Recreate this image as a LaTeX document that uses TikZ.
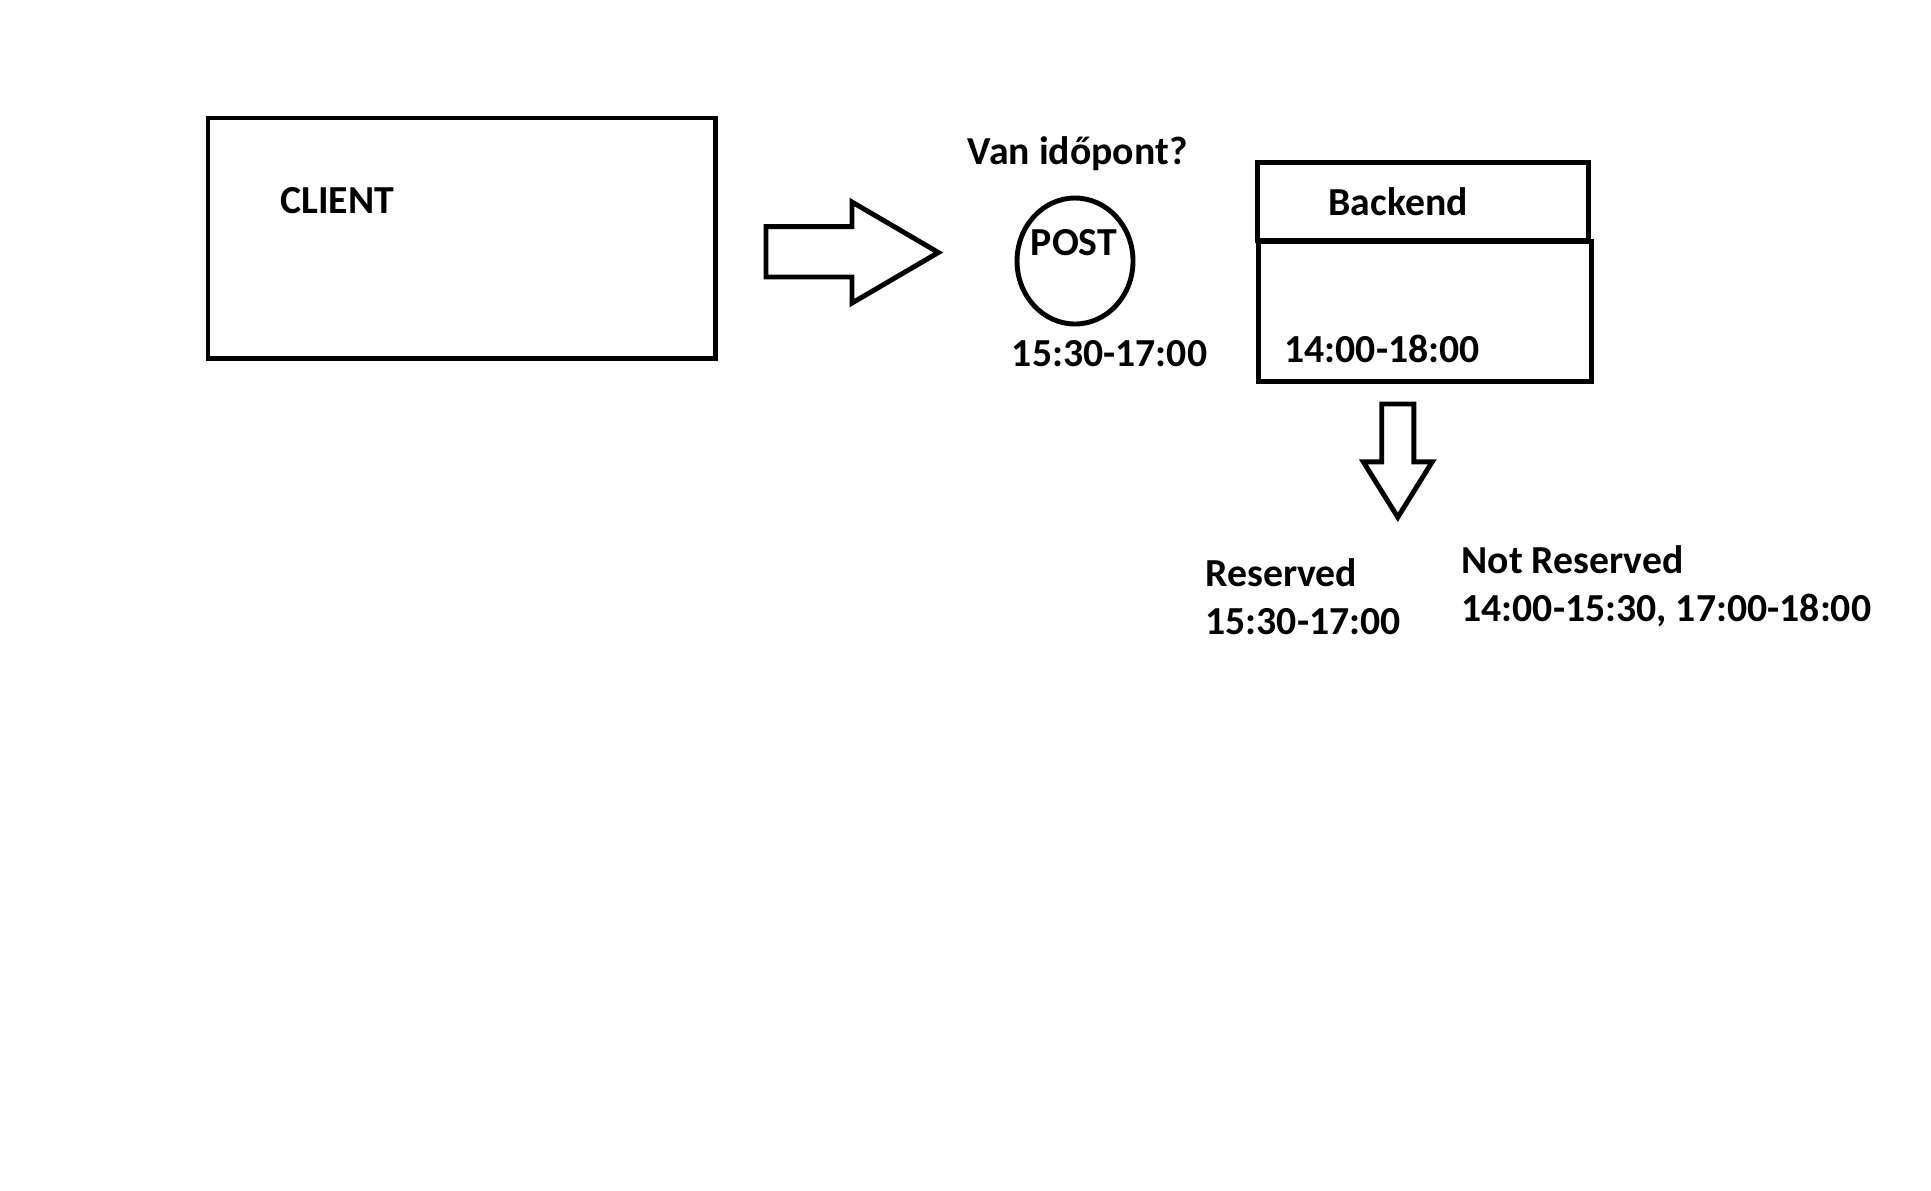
\documentclass[tikz,border=0pt]{standalone}
\usepackage{fontspec}
\setmainfont{Carlito}
\usetikzlibrary{positioning}

\begin{document}
\begin{tikzpicture}[x=0.01cm,y=-0.01cm,line width=1.4pt,
	lbl/.style={inner sep=0pt,font=\fontsize{11.3}{13}\selectfont\bfseries}]
	\useasboundingbox (0,0) rectangle (1931,1190);
	\draw (208,118) rectangle (715.5,358.4);
	\node[lbl,anchor=base west] (client) at (278,213) {CLIENT};
	\draw (766,226.6) -- (852,226.6) -- (852,202) -- (938.4,252.5) -- (852,303) -- (852,277) -- (766,277) -- cycle;
	\node[lbl,anchor=base] (question) at (1077.6,164) {Van időpont?};
	\draw (1075,261) ellipse [x radius=58, y radius=63];
	\node[lbl,anchor=base] (post) at (1074,255) {POST};
	\node[lbl,anchor=base west] (request) at (1009.5,366) {15:30-17:00};
	\draw (1257.4,162.6) rectangle (1588.6,240.1);
	\draw (1258.6,241.4) rectangle (1591.1,381.8);
	\node[lbl,anchor=base west] (backend) at (1326,215.5) {Backend};
	\node[lbl,anchor=base west] (stored) at (1282,362) {14:00-18:00};
	\draw (1381.7,404) -- (1413.8,404) -- (1413.8,461.8) -- (1432.2,461.8) -- (1397.8,517.2) -- (1363.3,461.8) -- (1381.7,461.8) -- cycle;
	\node[lbl,anchor=base west] (reserved) at (1203,586) {Reserved};
	\node[lbl,anchor=base west] (reservedtime) at (1203,634) {15:30-17:00};
	\node[lbl,anchor=base west] (free) at (1459,573) {Not Reserved};
	\node[lbl,anchor=base west] (freetime) at (1459,621) {14:00-15:30, 17:00-18:00};
\end{tikzpicture}
\end{document}
